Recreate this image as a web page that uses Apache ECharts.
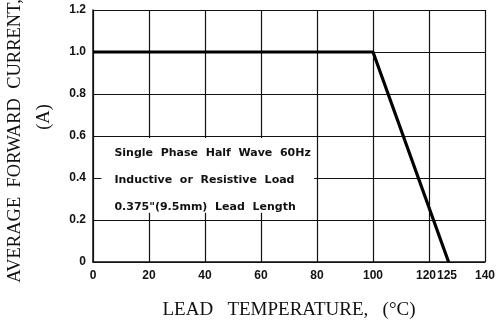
<!DOCTYPE html>
<html>
<head>
<meta charset="utf-8">
<script src="https://cdn.jsdelivr.net/npm/echarts@6/dist/echarts.min.js"></script>
<style>
  html, body { margin: 0; padding: 0; background: #fff; }
  #chart { width: 503px; height: 325px; }
</style>
</head>
<body>
<div id="chart"></div>
<script>
// derating curve
const temps = [0, 100, 127];
const currents = [1.0, 1.0, 0];
const xTickLabels = [0, 20, 40, 60, 80, 100, 120, 125, 140];
const noteLines = [
  'Single  Phase  Half  Wave  60Hz',
  'Inductive  or  Resistive  Load',
  '0.375"(9.5mm)  Lead  Length'
];

const chart = echarts.init(document.getElementById('chart'));

const tickFont = {
  fontFamily: 'Liberation Sans',
  fontSize: 12,
  fontWeight: 'bold',
  color: '#111'
};

const titleFont = { fontFamily: 'Liberation Serif', color: '#111' };

const option = {
  animation: false,
  backgroundColor: '#fff',
  grid: { left: 93, right: 18, top: 10, bottom: 63, outerBoundsMode: 'none' },
  xAxis: {
    type: 'value',
    min: 0,
    max: 140,
    interval: 20,
    name: 'LEAD   TEMPERATURE,   (°C)',
    nameLocation: 'middle',
    nameGap: 39,
    nameTextStyle: { ...titleFont, fontSize: 19 },
    axisLine: { lineStyle: { color: '#111', width: 1.5 } },
    axisTick: { show: false },
    axisLabel: {
      ...tickFont,
      margin: 8,
      customValues: xTickLabels,
      formatter: v => v === 125 ? '{s|125}' : v === 120 ? '{l|120}' : String(v),
      rich: {
        s: { ...tickFont, padding: [0, 0, 0, 8] },
        l: { ...tickFont, padding: [0, 6, 0, 0] }
      }
    },
    splitLine: { show: true, lineStyle: { color: '#111', width: 1.2 } }
  },
  yAxis: {
    type: 'value',
    min: 0,
    max: 1.2,
    interval: 0.2,
    name: '{a|AVERAGE  FORWARD  CURRENT,}\n{b|(A)}',
    nameLocation: 'middle',
    nameGap: 33,
    nameTextStyle: {
      lineHeight: 29,
      rich: {
        a: { ...titleFont, fontSize: 18.5, padding: [0, 10, 0, 0], lineHeight: 29 },
        b: { ...titleFont, fontSize: 18.5, padding: [0, 0, 0, 38], lineHeight: 29 }
      }
    },
    axisLine: { show: true, lineStyle: { color: '#111', width: 1.5 } },
    axisTick: { show: false },
    axisLabel: {
      ...tickFont,
      margin: 7,
      formatter: v => v === 0 ? '0' : v.toFixed(1)
    },
    splitLine: { show: true, lineStyle: { color: '#111', width: 1.2 } }
  },
  series: [{
    type: 'line',
    data: temps.map((t, i) => [t, currents[i]]),
    symbol: 'none',
    lineStyle: { color: '#000', width: 3.2 },
    markArea: {
      silent: true,
      itemStyle: { color: '#fff' },
      label: {
        show: true,
        position: 'insideLeft',
        distance: 13,
        offset: [0, 5],
        formatter: noteLines.join('\n'),
        fontFamily: 'DejaVu Sans',
        fontWeight: 'bold',
        fontSize: 11,
        lineHeight: 27,
        color: '#111'
      },
      data: [[{ xAxis: 3, yAxis: 0.59 }, { xAxis: 79, yAxis: 0.235 }]]
    }
  }]
};

chart.setOption(option);
</script>
</body>
</html>
